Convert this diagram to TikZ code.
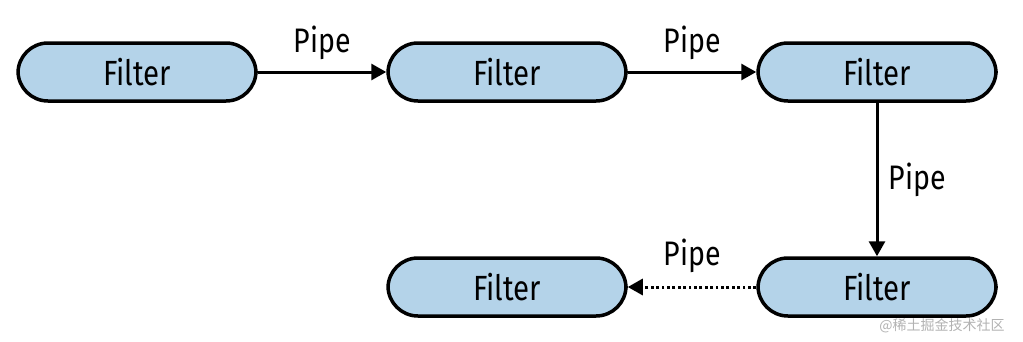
\documentclass[tikz,border=0pt]{standalone}
\usepackage{fontspec}
\setmainfont{Fira Sans}[FakeStretch=0.84]
\newfontfamily\cjk{Noto Sans CJK SC}
\usepackage{tikz}
\usepackage{xcolor}
\usetikzlibrary{arrows.meta}

\definecolor{filterblue}{RGB}{180,211,233}

\tikzset{
  filter/.style={draw=black, line width=3.5pt, fill=filterblue, rounded corners=30pt,
    minimum width=238pt, minimum height=58pt, inner sep=0pt, font=\fontsize{35}{38}\selectfont},
  pipe/.style={line width=3pt},
  pipelabel/.style={inner sep=0pt, font=\fontsize{34}{36}\selectfont}
}

\begin{document}
\begin{tikzpicture}[x=1pt,y=-1pt,>={Triangle[length=15pt,width=16pt]}]
  \useasboundingbox (0,0) rectangle (1023,341);

  % filters
  \node[filter] (f1) at (137,72) {Filter};
  \node[filter] (f2) at (507,72) {Filter};
  \node[filter] (f3) at (877,72) {Filter};
  \node[filter] (f4) at (877,287) {Filter};
  \node[filter] (f5) at (507,287) {Filter};

  % pipes
  \draw[pipe,->] (f1) -- node[pipelabel,above=11pt] {Pipe} (f2);
  \draw[pipe,->] (f2) -- node[pipelabel,above=11pt] {Pipe} (f3);
  \draw[pipe,->] (f3) -- node[pipelabel,right=10pt] {Pipe} (f4);
  \draw[pipe,->,dash pattern=on 2.8pt off 2.6pt] (f4) -- node[pipelabel,above=13pt] {Pipe} (f5);

  % watermark
  \node[text=black!30, font=\cjk\fontsize{14}{15}\selectfont, inner sep=0pt] (wm) at (942,326) {@稀土掘金技术社区};
\end{tikzpicture}
\end{document}
